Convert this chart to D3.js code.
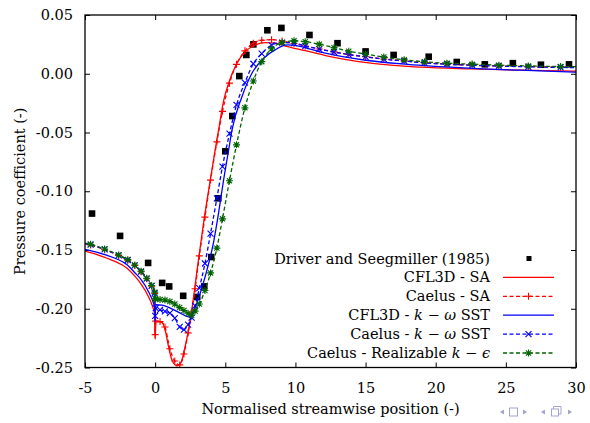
<!DOCTYPE html>
<html>
<head>
<meta charset="utf-8">
<script src="https://cdn.jsdelivr.net/npm/d3@7"></script>
<style>
  body { margin: 0; background: #fff; }
  svg { display: block; }
  text { font-family: "DejaVu Serif", serif; fill: #000; }
</style>
</head>
<body>
<svg id="chart" width="590" height="423"></svg>
<script>
// ---- Axis ticks ----
const xTicks = [-5, 0, 5, 10, 15, 20, 25, 30];
const xTickLabels = ["-5", "0", "5", "10", "15", "20", "25", "30"];
const yTicks = [0.05, 0.00, -0.05, -0.10, -0.15, -0.20, -0.25];
const yTickLabels = ["0.05", "0.00", "-0.05", "-0.10", "-0.15", "-0.20", "-0.25"];

// ---- Experiment: Driver and Seegmiller (1985) ----
const expX  = [-4.5, -2.5, -0.5, 0.5, 1.0, 2.0, 3.0, 3.5, 4.0, 4.5, 5.0, 5.5, 6.0, 6.5, 7.0, 8.0, 9.0, 11.0, 13.0, 15.0, 17.0, 19.5, 21.5, 23.5, 25.5, 27.5, 29.5];
const expCp = [-0.119, -0.138, -0.161, -0.178, -0.181, -0.189, -0.190, -0.181, -0.156, -0.106, -0.066, -0.036, -0.002, 0.016, 0.025, 0.037, 0.039, 0.033, 0.026, 0.019, 0.016, 0.0145, 0.010, 0.008, 0.009, 0.0077, 0.008];

// ---- CFL3D - SA ----
const cfl3dSAx = [-5, -4, -3, -2, -1.43, -1, -0.48, -0.2, -0.05, 0, 0.05, 0.48, 0.71, 0.95, 1.19, 1.55, 1.83, 2.14, 2.38, 2.55, 2.74, 2.98, 3.45, 3.93, 4.29, 4.52, 4.88, 5.24, 5.83, 6.43, 7.14, 7.86, 8.57, 9.29, 10.71, 12.14, 15.36, 18.93, 22.5, 26, 30];
const cfl3dSAcp = [-0.151, -0.1545, -0.159, -0.1655, -0.1725, -0.179, -0.1895, -0.1975, -0.204, -0.226, -0.211, -0.2116, -0.218, -0.232, -0.2434, -0.2485, -0.246, -0.232, -0.218, -0.2065, -0.19, -0.168, -0.127, -0.0905, -0.064, -0.048, -0.023, -0.008, 0.0089, 0.0188, 0.0245, 0.0265, 0.026, 0.0236, 0.0196, 0.0155, 0.009, 0.0056, 0.0041, 0.003, 0.0022];

// ---- CFL3D - k-omega SST ----
const cfl3dSSTx = [-5, -4, -2.86, -2, -1.43, -1, -0.48, -0.12, -0.03, 0, 0.04, 0.5, 1.07, 1.79, 2.26, 2.5, 2.74, 2.98, 3.57, 4.17, 4.52, 4.88, 5.24, 5.48, 6.19, 6.9, 7.74, 8.57, 9.4, 10.24, 11.19, 12.14, 15, 18, 22, 26, 30];
const cfl3dSSTcp = [-0.1495, -0.1525, -0.157, -0.1625, -0.1696, -0.1752, -0.1853, -0.1952, -0.199, -0.211, -0.1966, -0.197, -0.1994, -0.2037, -0.2065, -0.207, -0.2023, -0.195, -0.1725, -0.143, -0.1186, -0.0903, -0.0648, -0.0478, -0.0195, 0.0004, 0.0132, 0.0205, 0.0245, 0.0235, 0.0205, 0.0175, 0.0115, 0.008, 0.005, 0.003, 0.0013];

// ---- Caelus runs share one set of sample stations ----
const caelusX = [-5, -4.6, -3.6, -2.6, -1.95, -1.45, -1.0, -0.6, -0.25, -0.03, 0, 0.04, 0.35, 0.7, 1.05, 1.4, 1.75, 2.05, 2.35, 2.6, 2.85, 3.15, 3.55, 3.95, 4.4, 4.8, 5.3, 5.8, 6.4, 7.0, 7.6, 8.3, 9.05, 9.9, 10.7, 11.7, 12.75, 13.8, 15.0, 16.3, 17.75, 19.2, 20.8, 22.6, 24.5, 26.6, 28.9, 30];
const caelusSAcp = [-0.1448, -0.1458, -0.1498, -0.1547, -0.1587, -0.1632, -0.1685, -0.1745, -0.1808, -0.187, -0.222, -0.2105, -0.2108, -0.2155, -0.234, -0.2445, -0.2478, -0.2385, -0.2205, -0.203, -0.183, -0.155, -0.122, -0.0905, -0.058, -0.032, -0.008, 0.008, 0.0195, 0.026, 0.0285, 0.029, 0.0278, 0.0258, 0.0236, 0.0211, 0.0186, 0.0164, 0.0145, 0.0126, 0.011, 0.0094, 0.0083, 0.0074, 0.0067, 0.0061, 0.0056, 0.0054];
const caelusSSTcp = [-0.1445, -0.1455, -0.1495, -0.1545, -0.1585, -0.163, -0.1683, -0.1743, -0.1806, -0.187, -0.206, -0.1995, -0.2009, -0.2023, -0.2037, -0.208, -0.2155, -0.2178, -0.2135, -0.2075, -0.1975, -0.1825, -0.1615, -0.136, -0.106, -0.079, -0.051, -0.0265, -0.0075, 0.0085, 0.0172, 0.0243, 0.0265, 0.026, 0.0236, 0.021, 0.0185, 0.0163, 0.0144, 0.0124, 0.0108, 0.0092, 0.0081, 0.0072, 0.0065, 0.0059, 0.0054, 0.0052];
const caelusRKEcp = [-0.1442, -0.1452, -0.1492, -0.1542, -0.1582, -0.1628, -0.168, -0.174, -0.1802, -0.186, -0.1915, -0.1918, -0.1922, -0.1926, -0.1938, -0.196, -0.199, -0.2015, -0.2038, -0.2055, -0.202, -0.196, -0.1845, -0.1695, -0.1484, -0.1235, -0.091, -0.0605, -0.029, -0.0062, 0.0103, 0.0213, 0.0265, 0.028, 0.0273, 0.0252, 0.0222, 0.0192, 0.0168, 0.0142, 0.0119, 0.0102, 0.009, 0.0082, 0.0073, 0.0067, 0.0061, 0.006];

// ---- Series styling ----
const zip = (xs, ys) => xs.map((v, i) => [v, ys[i]]);
const series = [
  { name: "CFL3D - SA", data: zip(cfl3dSAx, cfl3dSAcp), color: "#ff0000", dash: null, marker: null },
  { name: "Caelus - SA", data: zip(caelusX, caelusSAcp), color: "#ff0000", dash: "4,2.5", marker: "plus" },
  { name: "CFL3D - k-w SST", data: zip(cfl3dSSTx, cfl3dSSTcp), color: "#0000ff", dash: null, marker: null },
  { name: "Caelus - k-w SST", data: zip(caelusX, caelusSSTcp), color: "#0000ff", dash: "4,2.5", marker: "cross" },
  { name: "Caelus - Realizable k-e", data: zip(caelusX, caelusRKEcp), color: "#006400", dash: "4,2.5", marker: "star" }
];

const markerPaths = {
  plus:  "M-3.5,0H3.5M0,-3.5V3.5",
  cross: "M-3,-3L3,3M-3,3L3,-3",
  star:  "M-3.5,0H3.5M0,-3.5V3.5M-2.6,-2.6L2.6,2.6M-2.6,2.6L2.6,-2.6"
};

// ---- Layout ----
const margin = { left: 85, right: 576, top: 15, bottom: 367.5 };
const svg = d3.select("#chart");
const x = d3.scaleLinear().domain([-5, 30]).range([margin.left, margin.right]);
const y = d3.scaleLinear().domain([-0.25, 0.05]).range([margin.bottom, margin.top]);
const serifFont = '"DejaVu Serif", serif';
const fontSize = 14.5;

svg.append("defs").append("clipPath").attr("id", "plotClip")
  .append("rect")
  .attr("x", margin.left).attr("y", margin.top)
  .attr("width", margin.right - margin.left).attr("height", margin.bottom - margin.top);

// ---- Axes (inward ticks on all four sides) ----
const bottomAxis = d3.axisBottom(x).tickValues(xTicks)
  .tickFormat((d, i) => xTickLabels[i]).tickSizeInner(-5).tickSizeOuter(0).tickPadding(15);
const topAxis = d3.axisTop(x).tickValues(xTicks).tickFormat("").tickSizeInner(-5).tickSizeOuter(0);
const leftAxis = d3.axisLeft(y).tickValues(yTicks)
  .tickFormat((d, i) => yTickLabels[i]).tickSizeInner(-5).tickSizeOuter(0).tickPadding(12);
const rightAxis = d3.axisRight(y).tickValues(yTicks).tickFormat("").tickSizeInner(-5).tickSizeOuter(0);

function styleAxis(g) {
  g.attr("font-family", serifFont).attr("font-size", fontSize);
  g.select(".domain").remove();
  g.selectAll(".tick line").attr("stroke", "#000").attr("stroke-width", 1);
  g.selectAll(".tick text").attr("fill", "#000");
}
svg.append("g").attr("transform", `translate(0,${margin.bottom})`).call(bottomAxis).call(styleAxis);
svg.append("g").attr("transform", `translate(0,${margin.top})`).call(topAxis).call(styleAxis);
svg.append("g").attr("transform", `translate(${margin.left},0)`).call(leftAxis).call(styleAxis);
svg.append("g").attr("transform", `translate(${margin.right},0)`).call(rightAxis).call(styleAxis);

// ---- Data layer ----
const plot = svg.append("g").attr("clip-path", "url(#plotClip)");

plot.selectAll("rect.exp")
  .data(zip(expX, expCp))
  .join("rect")
  .attr("class", "exp")
  .attr("x", d => x(d[0]) - 3.3).attr("y", d => y(d[1]) - 3.3)
  .attr("width", 6.6).attr("height", 6.6)
  .attr("fill", "#000");

const line = d3.line().x(d => x(d[0])).y(d => y(d[1])).curve(d3.curveMonotoneX);

series.forEach(s => {
  plot.append("path")
    .datum(s.data)
    .attr("d", line)
    .attr("fill", "none")
    .attr("stroke", s.color)
    .attr("stroke-width", 1.3)
    .attr("stroke-dasharray", s.dash);
  if (s.marker) {
    plot.selectAll(null)
      .data(s.data.slice(1, -1))
      .join("path")
      .attr("transform", d => `translate(${x(d[0])},${y(d[1])})`)
      .attr("d", markerPaths[s.marker])
      .attr("fill", "none")
      .attr("stroke", s.color)
      .attr("stroke-width", 1.1);
  }
});

// ---- Frame ----
svg.append("rect")
  .attr("x", margin.left).attr("y", margin.top)
  .attr("width", margin.right - margin.left).attr("height", margin.bottom - margin.top)
  .attr("fill", "none").attr("stroke", "#000").attr("stroke-width", 1.3);

// ---- Axis titles ----
svg.append("text")
  .attr("x", (margin.left + margin.right) / 2).attr("y", 414)
  .attr("text-anchor", "middle")
  .style("font-size", fontSize + "px")
  .text("Normalised streamwise position (-)");

svg.append("text")
  .attr("transform", `translate(25,${(margin.top + margin.bottom) / 2}) rotate(-90)`)
  .attr("text-anchor", "middle")
  .style("font-size", fontSize + "px")
  .text("Pressure coefficient (-)");

// ---- Legend ----
const legend = svg.append("g");
const legendTextX = 490, legendLineX0 = 503, legendLineX1 = 554, legendBase0 = 263.5, legendStep = 18.9;
const legendLabels = [
  [{ t: "Driver and Seegmiller (1985)" }],
  [{ t: "CFL3D - SA" }],
  [{ t: "Caelus - SA" }],
  [{ t: "CFL3D - " }, { t: "k", i: true }, { t: " \u2212 " }, { t: "\u03c9", i: true }, { t: " SST" }],
  [{ t: "Caelus - " }, { t: "k", i: true }, { t: " \u2212 " }, { t: "\u03c9", i: true }, { t: " SST" }],
  [{ t: "Caelus - Realizable " }, { t: "k", i: true }, { t: " \u2212 " }, { t: "\u03f5", i: true }]
];
legendLabels.forEach((parts, i) => {
  const base = legendBase0 + i * legendStep;
  const t = legend.append("text")
    .attr("x", legendTextX).attr("y", base)
    .attr("text-anchor", "end")
    .style("font-size", fontSize + "px");
  parts.forEach(p => t.append("tspan").text(p.t).style("font-style", p.i ? "italic" : "normal"));
  const cy = base - 5;
  if (i === 0) {
    legend.append("rect").attr("x", 529 - 2.5).attr("y", cy - 2.5)
      .attr("width", 5).attr("height", 5).attr("fill", "#000");
  } else {
    const s = series[i - 1];
    legend.append("line")
      .attr("x1", legendLineX0).attr("x2", legendLineX1).attr("y1", cy).attr("y2", cy)
      .attr("stroke", s.color).attr("stroke-width", 1.3).attr("stroke-dasharray", s.dash);
    if (s.marker) {
      legend.append("path")
        .attr("transform", `translate(${(legendLineX0 + legendLineX1) / 2},${cy})`)
        .attr("d", markerPaths[s.marker])
        .attr("fill", "none").attr("stroke", s.color).attr("stroke-width", 1.1);
    }
  }
});

// ---- Navigation symbols (bottom right) ----
const navColor = "#a3a3cf";
const nav = svg.append("g").attr("fill", "none").attr("stroke", navColor).attr("stroke-width", 1);
const navY = 412;
nav.append("path").attr("d", `M500,${navY}l4,-2.5v5z`).attr("fill", navColor).attr("stroke", "none");
nav.append("rect").attr("x", 509.5).attr("y", navY - 4).attr("width", 8).attr("height", 8);
nav.append("path").attr("d", `M527,${navY}l-4,-2.5v5z`).attr("fill", navColor).attr("stroke", "none");
nav.append("path").attr("d", `M541,${navY}l4,-2.5v5z`).attr("fill", navColor).attr("stroke", "none");
nav.append("rect").attr("x", 551.5).attr("y", navY - 3).attr("width", 7).attr("height", 7);
nav.append("path").attr("d", `M553.5,${navY - 3}v-2.5h7.5v7.5h-2.5`);
nav.append("path").attr("d", `M572,${navY}l-4,-2.5v5z`).attr("fill", navColor).attr("stroke", "none");
</script>
</body>
</html>
